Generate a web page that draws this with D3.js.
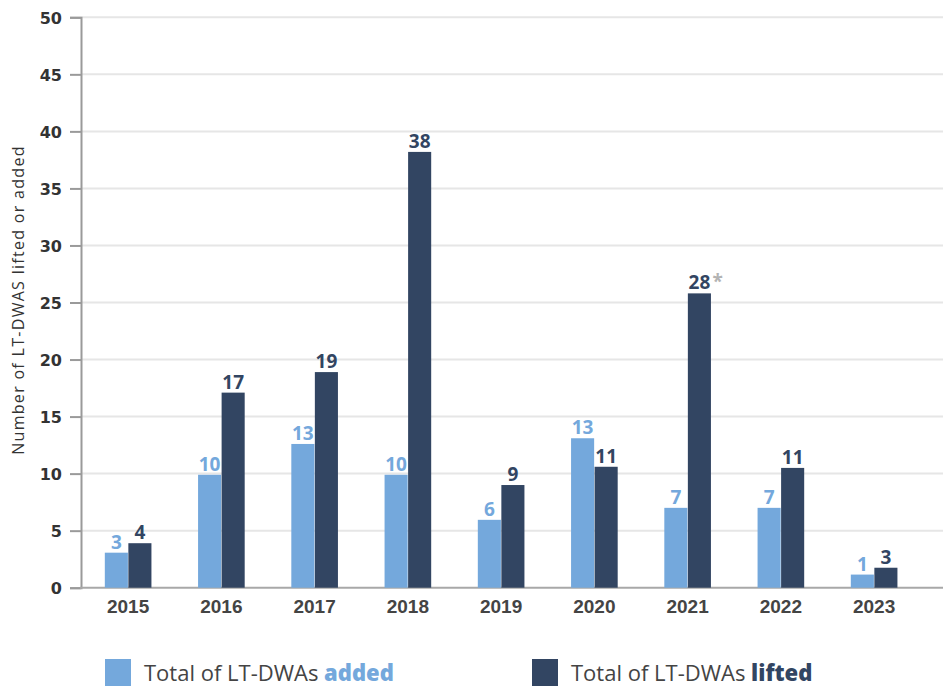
<!DOCTYPE html>
<html>
<head>
<meta charset="utf-8">
<title>LT-DWAs lifted or added</title>
<style>
    html, body { margin: 0; padding: 0; background: #fff; }
    svg { display: block; font-family: "Open Sans", "DejaVu Sans", sans-serif; }
    .y.axis text { font-family: "DejaVu Sans", sans-serif; font-weight: bold; font-size: 16px; fill: #333; }
    .x.axis text { font-weight: 600; font-size: 19px; fill: #444; }
    .val { font-weight: 700; font-size: 19px; text-anchor: middle; }
</style>
<script src="https://d3js.org/d3.v7.min.js"></script>
</head>
<body>
<svg id="chart"></svg>
<script>
// years on the x axis
const years = ["2015", "2016", "2017", "2018", "2019", "2020", "2021", "2022", "2023"];
// bar heights as drawn in the picture
const addedBars = [3.07, 9.9, 12.6, 9.9, 5.95, 13.1, 7.0, 7.0, 1.15];
const liftedBars = [3.9, 17.1, 18.9, 38.2, 9.0, 10.6, 25.8, 10.5, 1.75];
// numbers printed above the bars
const addedLabels = ["3", "10", "13", "10", "6", "13", "7", "7", "1"];
const liftedLabels = ["4", "17", "19", "38", "9", "11", "28", "11", "3"];
const yTicks = [0, 5, 10, 15, 20, 25, 30, 35, 40, 45, 50];

const width = 943, height = 686;
const cAdded = "#74a8dc", cLifted = "#324562";

const svg = d3.select("#chart").attr("width", width).attr("height", height);

const y = d3.scaleLinear().domain([0, 50]).range([587.7, 17.3]);
const x = d3.scaleBand().domain(years).range([81.5, 920.75])
    .paddingInner(0.5).paddingOuter(0.25);
const inner = d3.scaleBand().domain(["added", "lifted"]).range([0, x.bandwidth()]).paddingInner(0.02);

// grid lines
svg.append("g").selectAll("line").data(yTicks.slice(1)).enter().append("line")
    .attr("x1", 81).attr("x2", width)
    .attr("y1", d => y(d)).attr("y2", d => y(d))
    .attr("stroke", "#e6e6e6").attr("stroke-width", 2);

// y axis
const yAxis = svg.append("g").attr("class", "y axis")
    .attr("transform", "translate(81,0)")
    .call(d3.axisLeft(y).tickValues(yTicks).tickSize(11).tickPadding(8));
yAxis.select(".domain").attr("stroke", "#9a9a9a").attr("stroke-width", 2);
yAxis.selectAll(".tick line").attr("stroke", "#9a9a9a").attr("stroke-width", 2);
yAxis.selectAll(".tick text").attr("dy", "0.36em");

// baseline
svg.append("line").attr("x1", 80).attr("x2", width)
    .attr("y1", y(0)).attr("y2", y(0))
    .attr("stroke", "#a8a8a8").attr("stroke-width", 2);

// x axis labels
const xAxis = svg.append("g").attr("class", "x axis")
    .attr("transform", "translate(0," + y(0) + ")")
    .call(d3.axisBottom(x).tickSize(0).tickPadding(12));
xAxis.select(".domain").remove();
xAxis.selectAll(".tick text").attr("dy", "0.71em");

const rows = years.map((yr, i) => ({
    year: yr,
    added: addedBars[i], lifted: liftedBars[i],
    addedLabel: addedLabels[i], liftedLabel: liftedLabels[i]
}));

const groups = svg.append("g").selectAll("g").data(rows).enter().append("g")
    .attr("transform", d => "translate(" + x(d.year) + ",0)");

groups.append("rect")
    .attr("x", inner("added")).attr("width", inner.bandwidth())
    .attr("y", d => y(d.added)).attr("height", d => y(0) - y(d.added))
    .attr("fill", cAdded);
groups.append("rect")
    .attr("x", inner("lifted")).attr("width", inner.bandwidth())
    .attr("y", d => y(d.lifted)).attr("height", d => y(0) - y(d.lifted))
    .attr("fill", cLifted);

groups.append("text").attr("class", "val")
    .attr("x", inner("added") + inner.bandwidth() / 2)
    .attr("y", d => y(d.added) - 4)
    .attr("fill", cAdded)
    .text(d => d.addedLabel);
groups.append("text").attr("class", "val")
    .attr("x", inner("lifted") + inner.bandwidth() / 2)
    .attr("y", d => y(d.lifted) - 4)
    .attr("fill", cLifted)
    .text(d => d.liftedLabel);

// asterisk next to 2021 lifted
const r21 = rows.find(d => d.year === "2021");
svg.append("text")
    .attr("x", x("2021") + inner("lifted") + inner.bandwidth() / 2 + 13)
    .attr("y", y(r21.lifted) - 5)
    .attr("font-size", "19px").attr("font-weight", 700)
    .attr("fill", "#b3b3b3")
    .text("*");

// y axis title
svg.append("text")
    .attr("transform", "translate(24,300) rotate(-90)")
    .attr("text-anchor", "middle")
    .attr("font-size", "16px").attr("letter-spacing", "1.3px").attr("fill", "#333")
    .text("Number of LT-DWAS lifted or added");

// legend
const legend = [
    { x: 105, color: cAdded, word: "added" },
    { x: 532, color: cLifted, word: "lifted" }
];
const lg = svg.append("g").selectAll("g").data(legend).enter().append("g")
    .attr("transform", d => "translate(" + d.x + ",0)");
lg.append("rect").attr("x", 0).attr("y", 659).attr("width", 26).attr("height", 27)
    .attr("fill", d => d.color);
const lt = lg.append("text").attr("x", 39).attr("y", 681)
    .attr("font-size", "22px").attr("fill", "#444");
lt.append("tspan").text("Total of LT-DWAs ");
lt.append("tspan").attr("font-weight", 800).attr("fill", d => d.color).text(d => d.word);
</script>
</body>
</html>
